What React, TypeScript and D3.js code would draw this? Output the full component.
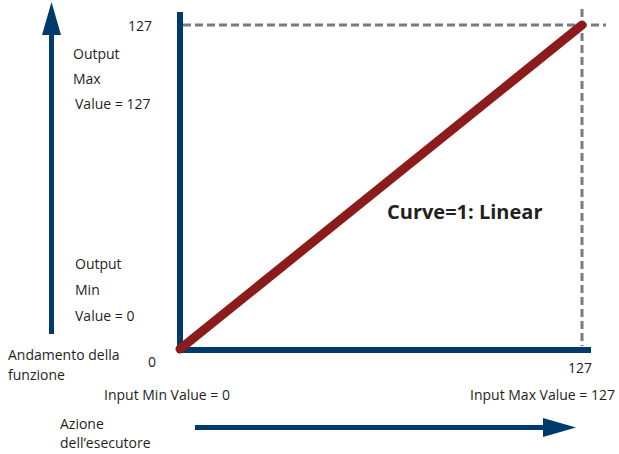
import React from "react";
import * as d3 from "d3";

const inputValues = [0, 127];
const outputValues = [0, 127];
const tickLabels = ["0", "127"];
const curveLabel = "Curve=1: Linear";

const W = 619, H = 454;
const NAVY = "#003a6c";
const RED = "#8c1c1c";
const GRAY = "#7b7b7b";
const FONT = "'Open Sans', 'Noto Sans', sans-serif";

export default function App() {
  const x = d3.scaleLinear().domain([0, 127]).range([180, 582]);
  const y = d3.scaleLinear().domain([0, 127]).range([349, 25]);
  const pts = inputValues.map((v, i) => [x(v), y(outputValues[i])] as [number, number]);
  const line = d3.line()(pts) || "";
  const t = { fontFamily: FONT, fontSize: 14, fill: "#231f20" } as const;
  return (
    <svg width={W} height={H} style={{ position: "absolute", left: 0, top: 0, background: "#fff" }}>
      {/* left up arrow */}
      <rect x={49} y={30} width={5} height={304} fill={NAVY} />
      <path d="M42,35 L51.5,2 L61,35 Z" fill={NAVY} />
      {/* bottom right arrow */}
      <rect x={195} y={425} width={352} height={5} fill={NAVY} />
      <path d="M543,418 L576,427.5 L543,437 Z" fill={NAVY} />
      {/* dashed guides */}
      <line x1={x(0) + 3} x2={606} y1={y(127)} y2={y(127)} stroke={GRAY} strokeWidth={3} strokeDasharray="8,4" />
      <line x1={x(127)} x2={x(127)} y1={9} y2={346} stroke={GRAY} strokeWidth={3} strokeDasharray="8,4" />
      {/* axes */}
      <rect x={177} y={12} width={6} height={341} fill={NAVY} />
      <rect x={177} y={347} width={414} height={6} fill={NAVY} />
      {/* curve */}
      <path d={line} stroke={RED} strokeWidth={9} strokeLinecap="round" fill="none" />
      {/* texts */}
      <text {...t} x={152} y={31} textAnchor="end">{tickLabels[1]}</text>
      <text {...t} x={73} y={59}>Output</text>
      <text {...t} x={73} y={84}>Max</text>
      <text {...t} x={75} y={109}>Value = 127</text>
      <text {...t} x={75} y={269}>Output</text>
      <text {...t} x={75} y={295}>Min</text>
      <text {...t} x={75} y={321}>Value = 0</text>
      <text {...t} x={8} y={360}>Andamento della</text>
      <text {...t} x={8} y={380}>funzione</text>
      <text {...t} x={148} y={367}>{tickLabels[0]}</text>
      <text {...t} x={104} y={400}>Input Min Value = 0</text>
      <text {...t} x={580} y={373} textAnchor="middle">{tickLabels[1]}</text>
      <text {...t} x={615} y={400} textAnchor="end">Input Max Value = 127</text>
      <text {...t} x={60} y={429}>Azione</text>
      <text {...t} x={60} y={448}>dell’esecutore</text>
      <text x={387} y={219} fontFamily={FONT} fontSize={20} fontWeight="bold" fill="#231f20">{curveLabel}</text>
    </svg>
  );
}
